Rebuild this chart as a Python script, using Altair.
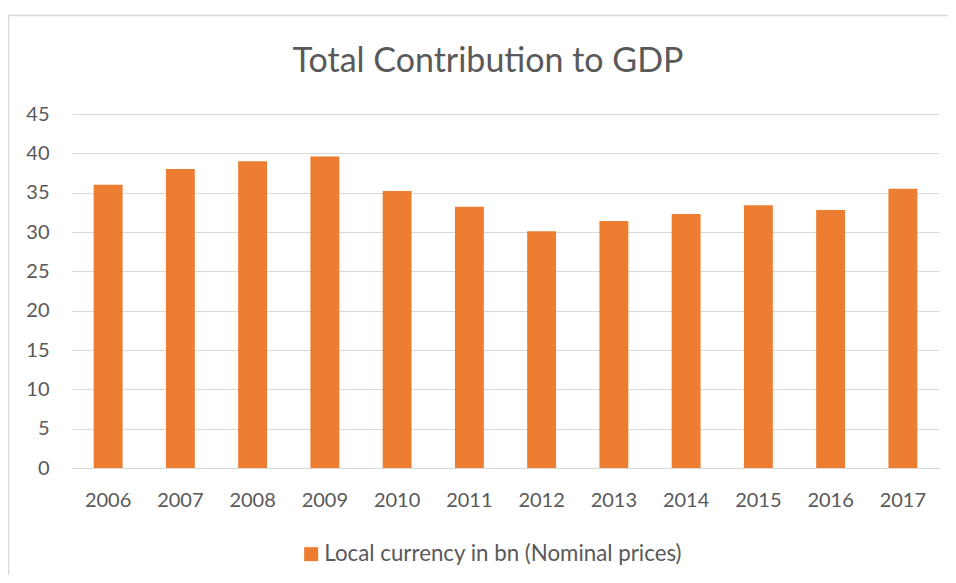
import altair as alt
import pandas as pd

years = ["2006", "2007", "2008", "2009", "2010", "2011", "2012", "2013", "2014", "2015", "2016", "2017"]
values = [36.0, 38.0, 39.0, 39.6, 35.2, 33.2, 30.1, 31.4, 32.3, 33.4, 32.8, 35.5]
series_name = "Local currency in bn (Nominal prices)"
chart_title = "Total Contribution to GDP"
y_ticks = [0, 5, 10, 15, 20, 25, 30, 35, 40, 45]

df = pd.DataFrame({"year": years, "value": values, "series": [series_name] * len(years)})

FONT = "Lato"
GREY = "#595959"
LINE = "#d9d9d9"
ORANGE = "#ED7D31"

bars = alt.Chart(df).mark_bar().encode(
    x=alt.X("year:N", sort=years,
            scale=alt.Scale(paddingInner=0.6, paddingOuter=0.3),
            axis=alt.Axis(title=None, labelAngle=0, ticks=False, tickSize=0,
                          domain=True, domainColor=LINE, domainWidth=1,
                          labelFont=FONT, labelFontSize=20, labelColor=GREY,
                          labelPadding=22, grid=False)),
    y=alt.Y("value:Q",
            scale=alt.Scale(domain=[0, 45], nice=False),
            axis=alt.Axis(title=None, values=y_ticks, ticks=False, tickSize=0,
                          domain=False, grid=True, gridColor=LINE, gridWidth=1,
                          labelFont=FONT, labelFontSize=20, labelColor=GREY,
                          labelPadding=23)),
    fill=alt.Fill("series:N", scale=alt.Scale(range=[ORANGE]),
                  legend=alt.Legend(orient="none", legendX=228, legendY=429,
                                    title=None, symbolType="square", symbolSize=196,
                                    symbolStrokeWidth=0, padding=0,
                                    labelFont=FONT, labelFontSize=22.3, labelColor=GREY,
                                    labelOffset=2, labelLimit=600)),
)

title_df = pd.DataFrame({"t": [chart_title]})
title = alt.Chart(title_df).mark_text(font=FONT, fontSize=34, color=GREY, align="center",
                                      baseline="alphabetic", clip=False).encode(
    text="t:N", x=alt.value(416), y=alt.value(-42)
)

top_border = alt.Chart(title_df).mark_rule(color=LINE, strokeWidth=1.5, clip=False).encode(
    x=alt.value(-63.5), x2=alt.value(876), y=alt.value(-98.5)
)
left_border = alt.Chart(title_df).mark_rule(color=LINE, strokeWidth=1.5, clip=False).encode(
    x=alt.value(-63.5), y=alt.value(-98.5), y2=alt.value(461)
)

chart = alt.layer(top_border, left_border, bars, title).properties(
    width=867,
    height=354,
    autosize=alt.AutoSizeParams(type="none"),
    padding={"left": 64, "top": 106, "right": 9, "bottom": 107},
).configure(background="white").configure_view(stroke=None, strokeWidth=0)

chart.save("out.html", embed_options={"renderer": "svg", "actions": False})
